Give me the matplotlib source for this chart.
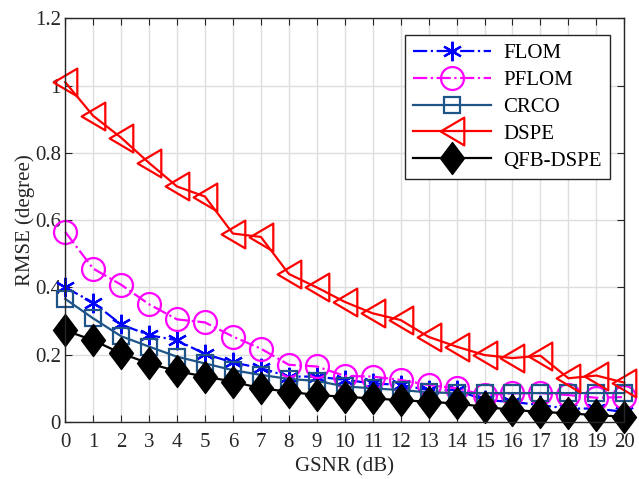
import numpy as np
import matplotlib
matplotlib.use("Agg")
import matplotlib.pyplot as plt
from matplotlib.path import Path

plt.rcParams['font.family'] = ['Liberation Serif', 'DejaVu Serif']

# donnees
gsnr = np.arange(0, 21)
flom = [0.40, 0.355, 0.29, 0.258, 0.243, 0.202, 0.177, 0.16, 0.135, 0.135, 0.125,
        0.115, 0.11, 0.095, 0.095, 0.065, 0.06, 0.05, 0.04, 0.04, 0.03]
pflom = [0.565, 0.456, 0.408, 0.35, 0.305, 0.296, 0.254, 0.218, 0.17, 0.165, 0.137,
         0.135, 0.125, 0.11, 0.10, 0.08, 0.085, 0.086, 0.08, 0.072, 0.074]
crco = [0.366, 0.308, 0.255, 0.224, 0.194, 0.174, 0.154, 0.14, 0.128, 0.122, 0.106,
        0.10, 0.095, 0.088, 0.086, 0.086, 0.086, 0.086, 0.086, 0.086, 0.086]
dspe = [1.01, 0.91, 0.845, 0.77, 0.70, 0.67, 0.56, 0.55, 0.44, 0.40, 0.357,
        0.323, 0.303, 0.253, 0.224, 0.199, 0.19, 0.197, 0.13, 0.138, 0.117]
qfb = [0.272, 0.243, 0.204, 0.174, 0.151, 0.135, 0.12, 0.10, 0.09, 0.08, 0.075,
       0.07, 0.065, 0.06, 0.055, 0.045, 0.036, 0.03, 0.026, 0.02, 0.016]

# marqueurs style matlab
diamant = Path([(0, 1), (0.75, 0), (0, -1), (-0.75, 0), (0, 1)],
               [Path.MOVETO, Path.LINETO, Path.LINETO, Path.LINETO, Path.CLOSEPOLY])
tri_g = Path([(-0.85, 0), (0.85, -1), (0.85, 1), (-0.85, 0)],
             [Path.MOVETO, Path.LINETO, Path.LINETO, Path.CLOSEPOLY])

fig = plt.figure(figsize=(6.39, 4.79), dpi=100)
ax = fig.add_axes([0.102, 0.119, 0.875, 0.843])

ax.plot(gsnr, flom, '-.', color='blue', marker=(6, 2, 0), ms=14, mew=1.6, lw=1.6,
        label='FLOM', clip_on=False)
ax.plot(gsnr, pflom, '-.', color='magenta', marker='o', ms=16.5, mew=1.6, mfc='none',
        lw=1.6, label='PFLOM', clip_on=False)
ax.plot(gsnr, crco, '-', color='#1f5488', marker='s', ms=12, mew=1.6, mfc='none',
        lw=1.6, label='CRCO', clip_on=False)
ax.plot(gsnr, dspe, '-', color='red', marker=tri_g, ms=20, mew=1.6, mfc='none',
        lw=1.6, label='DSPE', clip_on=False)
ax.plot(gsnr, qfb, '-', color='black', marker=diamant, ms=23, mew=1.0, mfc='black',
        lw=1.6, label='QFB-DSPE', clip_on=False)

ax.set_xlim(0, 20)
ax.set_ylim(0, 1.2)
ax.set_xticks(gsnr)
ax.set_yticks([0, 0.2, 0.4, 0.6, 0.8, 1.0, 1.2])
ax.set_yticklabels(['0', '0.2', '0.4', '0.6', '0.8', '1', '1.2'])
ax.grid(True, color='#dedede', lw=1.0)
ax.set_axisbelow(True)
ax.tick_params(direction='in', top=True, right=True, labelsize=15, colors='#262626',
               length=5, pad=3)
ax.tick_params(axis='x', pad=8)
for s in ax.spines.values():
    s.set_color('#262626')
    s.set_linewidth(1.0)

ax.set_xlabel('GSNR (dB)', fontsize=15, color='#262626', labelpad=4)
ax.set_ylabel('RMSE (degree)', fontsize=15, color='#262626', labelpad=0)

leg = ax.legend(loc='upper right', bbox_to_anchor=(0.975, 0.958), borderaxespad=0,
                fontsize=15, handlelength=3.75, fancybox=False, edgecolor='#262626',
                borderpad=0.4, labelspacing=0.35, handletextpad=0.6,
                framealpha=1)
leg.get_frame().set_linewidth(1.0)

fig.savefig("out.png", dpi=100)
